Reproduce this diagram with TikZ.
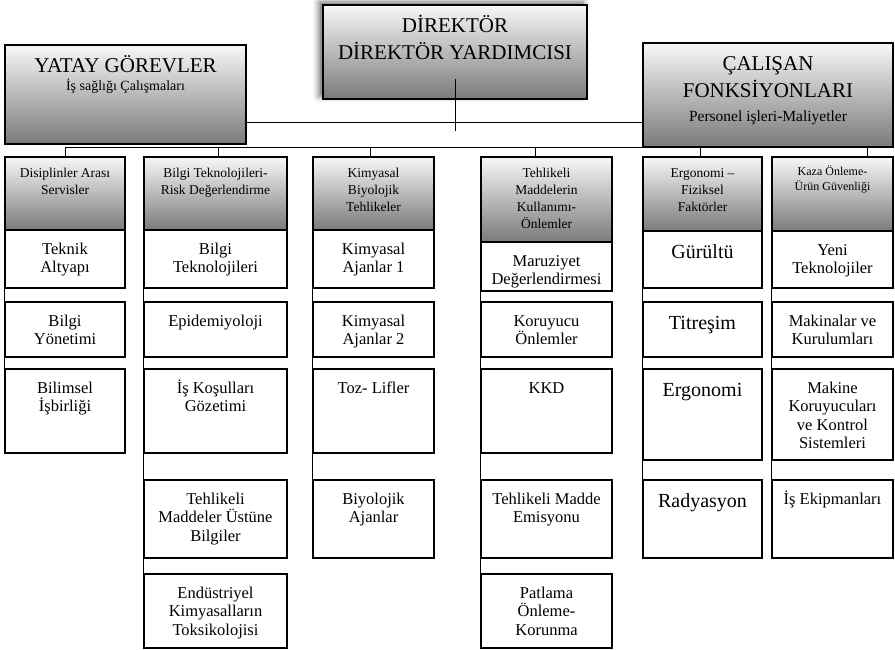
\documentclass[tikz,border=0pt]{standalone}
\usepackage{fontspec}
\setmainfont{Liberation Serif}
\usetikzlibrary{positioning,calc,shadows.blur}

% box with its text set from the top: style, name, x1, y1, x2, y2, font style, text
\newcommand{\cell}[8]{%
  \node[#1,minimum width=#5-#3,minimum height=#6-#4] (#2) at ({(#3+#5)/2},{(#4+#6)/2}) {};
  \node[lbl,#7] (#2t) at ([yshift=-6pt]#2.north) {\rule{0pt}{1em}#8};}

\begin{document}
\begin{tikzpicture}[x=1pt,y=-1pt,line width=0.9pt,
    lbl/.style={inner sep=0pt,anchor=north,align=center},
    subbox/.style={draw,line width=1.1pt,fill=white},
    hdr/.style={draw,line width=1.1pt,top color=black!3,middle color=black!15,bottom color=black!52},
    topbox/.style={hdr,line width=1.4pt},
    ftop/.style={font=\fontsize{21}{27}\selectfont,yshift=-1pt},
    fhdr/.style={font=\fontsize{13.5}{17}\selectfont,yshift=-1pt},
    fsml/.style={font=\fontsize{12}{15}\selectfont,yshift=-1pt},
    fbox/.style={font=\fontsize{16.5}{18.5}\selectfont,yshift=-2pt},
    fbig/.style={font=\fontsize{20}{24}\selectfont,yshift=-2pt}]
  \useasboundingbox (0,0) rectangle (895,650);

  % top row
  \cell{topbox,blur shadow={shadow xshift=-4pt,shadow yshift=3pt,shadow blur radius=6pt,shadow opacity=60}}{dir}{323}{5}{587}{99}{ftop}{DİREKTÖR\\DİREKTÖR YARDIMCISI}
  \cell{topbox}{yat}{5}{45}{246}{144}{ftop}{YATAY GÖREVLER}
  \cell{topbox}{cal}{643}{43}{893}{147}{ftop}{ÇALIŞAN\\FONKSİYONLARI}
  \node[anchor=base,font=\fontsize{14}{17}\selectfont] (yatsub) at ([yshift=-46pt]yat.north) {İş sağlığı Çalışmaları};
  \node[anchor=base,font=\fontsize{15.5}{18}\selectfont] (calsub) at ([yshift=-79pt]cal.north) {Personel işleri-Maliyetler};

  % column heads
  \cell{hdr}{h1}{5}{157}{125}{230}{fhdr}{Disiplinler Arası\\Servisler}
  \cell{hdr}{h2}{144}{157}{287}{230}{fhdr}{Bilgi Teknolojileri-\\Risk Değerlendirme}
  \cell{hdr}{h3}{313}{157}{434}{230}{fhdr}{Kimyasal\\Biyolojik\\Tehlikeler}
  \cell{hdr}{h4}{481}{157}{612}{242}{fhdr}{Tehlikeli\\Maddelerin\\Kullanımı-\\Önlemler}
  \cell{hdr}{h5}{643}{157}{762}{231}{fhdr}{Ergonomi –\\Fiziksel\\Faktörler}
  \cell{hdr}{h6}{772}{157}{893}{231}{fsml}{Kaza Önleme-\\Ürün Güvenliği}

  % spines
  \draw (h1.south west) -- (h1.south west |- 0,453);
  \draw (h2.south west) -- (h2.south west |- 0,648);
  \draw (h3.south west) -- (h3.south west |- 0,558);
  \draw (h4.south west) -- (h4.south west |- 0,648);
  \draw (h5.south west) -- (h5.south west |- 0,558);
  \draw (h6.south west) -- (h6.south west |- 0,558);

  % column 1
  \cell{subbox}{k11}{5}{230}{125}{288}{fbox}{Teknik\\Altyapı}
  \cell{subbox}{k12}{5}{302}{125}{357}{fbox}{Bilgi\\Yönetimi}
  \cell{subbox}{k13}{5}{369}{125}{453}{fbox}{Bilimsel\\İşbirliği}
  % column 2
  \cell{subbox}{k21}{144}{230}{287}{288}{fbox}{Bilgi\\Teknolojileri}
  \cell{subbox}{k22}{144}{302}{287}{357}{fbox}{Epidemiyoloji}
  \cell{subbox}{k23}{144}{369}{287}{453}{fbox}{İş Koşulları\\Gözetimi}
  \cell{subbox}{k24}{144}{480}{287}{558}{fbox}{Tehlikeli\\Maddeler Üstüne\\Bilgiler}
  \cell{subbox}{k25}{144}{574}{287}{648}{fbox}{Endüstriyel\\Kimyasalların\\Toksikolojisi}
  % column 3
  \cell{subbox}{k31}{313}{230}{434}{288}{fbox}{Kimyasal\\Ajanlar 1}
  \cell{subbox}{k32}{313}{302}{434}{357}{fbox}{Kimyasal\\Ajanlar 2}
  \cell{subbox}{k33}{313}{369}{434}{453}{fbox}{Toz- Lifler}
  \cell{subbox}{k34}{313}{480}{434}{558}{fbox}{Biyolojik\\Ajanlar}
  % column 4
  \cell{subbox}{k41}{481}{242}{612}{291}{fbox}{Maruziyet\\Değerlendirmesi}
  \cell{subbox}{k42}{481}{302}{612}{357}{fbox}{Koruyucu\\Önlemler}
  \cell{subbox}{k43}{481}{369}{612}{453}{fbox}{KKD}
  \cell{subbox}{k44}{481}{480}{612}{558}{fbox}{Tehlikeli Madde\\Emisyonu}
  \cell{subbox}{k45}{481}{574}{612}{648}{fbox}{Patlama\\Önleme-\\Korunma}
  % column 5
  \cell{subbox}{k51}{643}{231}{762}{288}{fbig}{Gürültü}
  \cell{subbox}{k52}{643}{302}{762}{357}{fbig}{Titreşim}
  \cell{subbox}{k53}{643}{369}{762}{460}{fbig}{Ergonomi}
  \cell{subbox}{k54}{643}{480}{762}{558}{fbig}{Radyasyon}
  % column 6
  \cell{subbox}{k61}{772}{231}{893}{288}{fbox}{Yeni\\Teknolojiler}
  \cell{subbox}{k62}{772}{302}{893}{357}{fbox}{Makinalar ve\\Kurulumları}
  \cell{subbox}{k63}{772}{369}{893}{460}{fbox}{Makine\\Koruyucuları\\ve Kontrol\\Sistemleri}
  \cell{subbox}{k64}{772}{480}{893}{558}{fbox}{İş Ekipmanları}

  % links
  \coordinate (la) at (yat.east |- 0,122);
  \draw (la) -- (la -| cal.west);
  \draw ([yshift=21pt]dir.south) -- ([yshift=-31pt]dir.south);
  \coordinate (b1) at (65,147);
  \coordinate (b2) at (218,147);
  \coordinate (b3) at (370,147);
  \coordinate (b4) at (535,147);
  \coordinate (b5) at (700,147);
  \coordinate (b6) at (867,147);
  \draw (b1) -- (b6);
  \foreach \i in {1,...,6} \draw (b\i) -- (b\i |- h\i.north);
\end{tikzpicture}
\end{document}
